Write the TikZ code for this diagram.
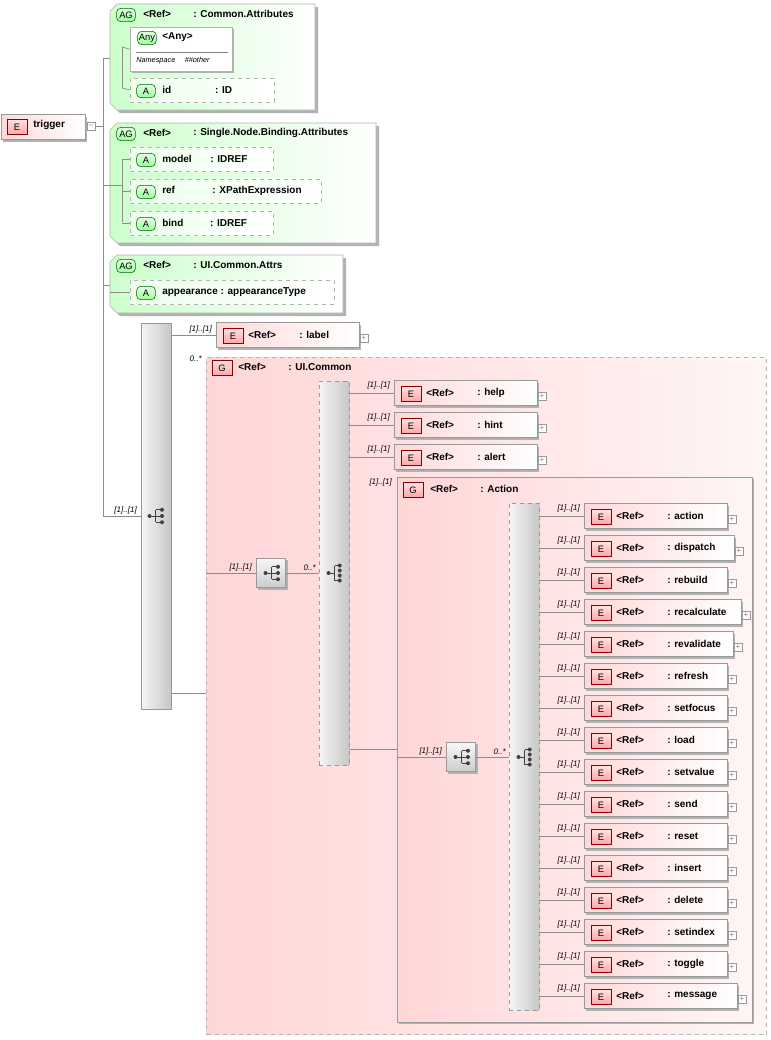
\documentclass[tikz,border=0pt]{standalone}
\usepackage{fontspec}
\setmainfont{Liberation Sans}
\usetikzlibrary{shadows}
\begin{document}
\begin{tikzpicture}[x=0.75pt,y=-0.75pt,
  every node/.style={font=\fontsize{7.5}{9}\selectfont\bfseries},
  ln/.style={draw=black!45,line width=0.5pt},
  sh/.style={drop shadow={shadow xshift=1.5pt,shadow yshift=-1.5pt,fill=black!30,opacity=1}},
  elbox/.style={draw=black!40,left color=red!15,right color=white,inner sep=0pt,anchor=west,minimum height=18.75pt,sh},
  attbox/.style={draw=black!30,dashed,fill=white,left color=green!8,right color=white,inner sep=0pt,anchor=west,minimum height=18pt},
  eicon/.style={draw=red!55!black,top color=red!12,bottom color=red!35,minimum width=15pt,minimum height=11pt,inner sep=0pt,font=\fontsize{7}{8}\selectfont\mdseries},
  aicon/.style={draw=green!40!black,rounded corners=3pt,top color=green!10,bottom color=green!40,minimum width=14pt,minimum height=10pt,inner sep=0pt,font=\fontsize{7}{8}\selectfont\mdseries},
  mult/.style={font=\fontsize{6}{7}\selectfont\itshape,inner sep=0pt},
  plusbox/.style={draw=black!40,fill=white,minimum size=6pt,inner sep=0pt,font=\fontsize{6}{6}\selectfont\mdseries,text=black!50},
  bar/.style={draw=black!40,left color=black!4,right color=black!22,inner sep=0pt,anchor=north west},
  cbar/.style={bar,dashed},
  gbox/.style={draw=black!30,line width=1pt,dashed,left color=red!16,right color=red!4,inner sep=0pt,anchor=north west},
  ]
\useasboundingbox (0,0) rectangle (771,1040);
\fill[white] (0,0) rectangle (771,1040);

\newcommand\xseqicon[1]{\begin{scope}[shift={(#1)},scale=1.25]
 \fill[black!75] (-6,0) circle (1.6);\draw[black!75,line width=0.7pt] (-6,0)--(-1,0) (-1,-5)--(-1,5) (-1,-5)--(4,-5) (-1,0)--(4,0) (-1,5)--(4,5);
 \fill[black!75] (4,-5) circle (1.6) (4,0) circle (1.6) (4,5) circle (1.6);\end{scope}}
\newcommand\xchoiceicon[1]{\begin{scope}[shift={(#1)},scale=1.25]
 \fill[black!75] (-6,0) circle (1.6);\draw[black!75,line width=0.7pt] (-6,0)--(-1,0) (-1,-6)--(-1,6) (-1,-6)--(3,-6) (-1,6)--(3,6);
 \fill[black!75] (3,-6) circle (1.6) (3,-2) circle (1.6) (3,2) circle (1.6) (3,6) circle (1.6);\end{scope}}
\newcommand\xel[5]{%
 \node[elbox,minimum width={(#4-#2)*0.75pt}] (#1) at (#2,#3) {};
 \node[eicon] at (#2+17,#3+1) {E};
 \node[anchor=west,inner sep=0pt] at (#2+32,#3) {<Ref>};
 \node[anchor=west,inner sep=0pt] at (#2+83,#3) {: #5};
 \node[plusbox] at (#4+5,#3+3) {+};}
\newcommand\xat[5]{%
 \node[attbox,minimum width={(#4-#2)*0.75pt}] (#1) at (#2,#3) {};
 \node[aicon] at (#2+16,#3+1) {A};
 \node[anchor=west,inner sep=0pt] at (#2+32,#3) {#5};}
\newcommand\xag[5]{%
 \fill[black!30] (#1+3+7,#2+3)--(#3+3,#2+3)--(#3+3,#4+3)--(#1+3+7,#4+3)--(#1+3,#4+3-7)--(#1+3,#2+3+7)--cycle;
 \shade[left color=green!20,right color=white,draw=black!30] (#1+7,#2)--(#3,#2)--(#3,#4)--(#1+7,#4)--(#1,#4-7)--(#1,#2+7)--cycle;
 \node[aicon] at (#1+16,#2+11) {AG};
 \node[anchor=west,inner sep=0pt] at (#1+33,#2+10) {<Ref>};
 \node[anchor=west,inner sep=0pt] at (#1+83,#2+10) {: #5};}

% trigger
\node[elbox,minimum width=63pt] (trig) at (1,127) {};
\node[eicon] at (17,127) {E};
\node[anchor=west,inner sep=0pt] at (33,125) {trigger};
\node[plusbox] (minus) at (91,126) {--};
\coordinate (tr) at (103,126);
\draw[ln] (minus.east)--(tr);
\draw[ln] (103,58)--(103,516);

% AG1
\xag{110}{4}{315}{110}{Common.Attributes}
\coordinate (ag1) at (110,58);
\draw[ln] (103,58)--(ag1);
\draw[ln] (122,47)--(122,88);
\node[draw=black!30,fill=white,sh,minimum width=76.5pt,minimum height=33pt,anchor=north west,inner sep=0pt] (any) at (130,27) {};
\draw[ln] (122,47)--(any.west);
\node[aicon] at (147,38) {Any};
\node[anchor=west,inner sep=0pt] at (162,37) {<Any>};
\draw[black!50] (136,52)--(228,52);
\node[anchor=west,inner sep=0pt,font=\fontsize{5.5}{6}\selectfont\itshape] at (136,61) {Namespace\quad\ \#\#other};
\xat{aid}{130}{90}{274}{id\hspace{33pt}: ID}
\draw[ln] (122,88)--(aid.west);

% AG2
\xag{110}{123}{376}{243}{Single.Node.Binding.Attributes}
\draw[ln] (103,185)--(110,185);
\draw[ln] (122,160)--(122,222);
\draw[ln] (110,185)--(122,185);
\xat{amodel}{130}{159}{273}{model\hspace{14pt}: IDREF}
\xat{aref}{130}{191}{321}{ref\hspace{28pt}: XPathExpression}
\xat{abind}{130}{223}{273}{bind\hspace{20pt}: IDREF}
\draw[ln] (122,159)--(amodel.west) (122,191)--(aref.west) (122,223)--(abind.west);

% AG3
\xag{110}{255}{343}{313}{UI.Common.Attrs}
\draw[ln] (103,285)--(110,285);
\xat{aapp}{130}{292}{334}{appearance : appearanceType}
\draw[ln] (110,292)--(aapp.west);

% main sequence bar
\node[bar,minimum width=22.5pt,minimum height={386*0.75pt}] (seq) at (141,323) {};
\xseqicon{157,516}
\draw[ln] (103,516)--(seq.west |- 0,516);
\node[mult,anchor=south east] at (137,514) {[1]..[1]};

% label
\xel{elabel}{216}{335}{359}{label}
\draw[ln] (seq.east |- elabel.west)--(elabel.west);
\node[mult,anchor=south east] at (212,333) {[1]..[1]};

% UI.Common group
\node[gbox,minimum width={560*0.75pt},minimum height={677*0.75pt}] (uic) at (206,357) {};
\node[mult,anchor=south east] at (202,362) {0..*};
\draw[ln] (seq.east |- 0,693)--(206,693);
\node[eicon] at (222,368) {G};
\node[anchor=west,inner sep=0pt] at (238,367) {<Ref>};
\node[anchor=west,inner sep=0pt] at (288,367) {: UI.Common};
\node[draw=black!40,top color=black!3,bottom color=black!20,minimum size=22pt,inner sep=0pt,sh] (seq2) at (271,573) {};
\xseqicon{273,573}
\draw[ln] (206,573)--(seq2.west);
\node[mult,anchor=south east] at (252,571) {[1]..[1]};
\node[cbar,minimum width=22.5pt,minimum height={384*0.75pt}] (ch1) at (319,381) {};
\xchoiceicon{336,573}
\draw[ln] (seq2.east)--(ch1.west |- seq2.east);
\node[mult,anchor=south east] at (316,571) {0..*};
\xel{ehelp}{394}{393}{537}{help}
\xel{ehint}{394}{425}{537}{hint}
\xel{ealert}{394}{457}{537}{alert}
\foreach \e in {ehelp,ehint,ealert}{
 \draw[ln] (ch1.east |- \e.west)--(\e.west);
 \node[mult,anchor=south east] at ([xshift=-3pt,yshift=3pt]\e.west) {[1]..[1]};}

% Action group
\node[draw=black!40,left color=red!16,right color=red!4,sh,minimum width={355*0.75pt},minimum height={545*0.75pt},inner sep=0pt,anchor=north west] (act) at (397,477) {};
\node[mult,anchor=south east] at (392,486) {[1]..[1]};
\draw[ln] (ch1.east |- 0,749)--(act.west |- 0,749);
\node[eicon] at (413,490) {G};
\node[anchor=west,inner sep=0pt] at (430,489) {<Ref>};
\node[anchor=west,inner sep=0pt] at (480,489) {: Action};
\node[draw=black!40,top color=black!3,bottom color=black!20,minimum size=22pt,inner sep=0pt,sh] (seq3) at (461,757) {};
\xseqicon{463,757}
\draw[ln] (act.west |- seq3.west)--(seq3.west);
\node[mult,anchor=south east] at (442,755) {[1]..[1]};
\node[cbar,minimum width=22.5pt,minimum height={507*0.75pt}] (ch2) at (509,503) {};
\xchoiceicon{526,757}
\draw[ln] (seq3.east)--(ch2.west |- seq3.east);
\node[mult,anchor=south east] at (506,755) {0..*};
\foreach \n/\w [count=\i from 0] in {action/727,dispatch/734,rebuild/727,recalculate/741,revalidate/733,refresh/727,setfocus/727,load/727,setvalue/727,send/727,reset/727,insert/727,delete/727,setindex/727,toggle/727,message/737}{
 \pgfmathsetmacro\yy{516+32*\i}
 \xel{a\i}{584}{\yy}{\w}{\n}
 \draw[ln] (ch2.east |- a\i.west)--(a\i.west);
 \node[mult,anchor=south east] at ([xshift=-3pt,yshift=3pt]a\i.west) {[1]..[1]};}
\end{tikzpicture}
\end{document}
